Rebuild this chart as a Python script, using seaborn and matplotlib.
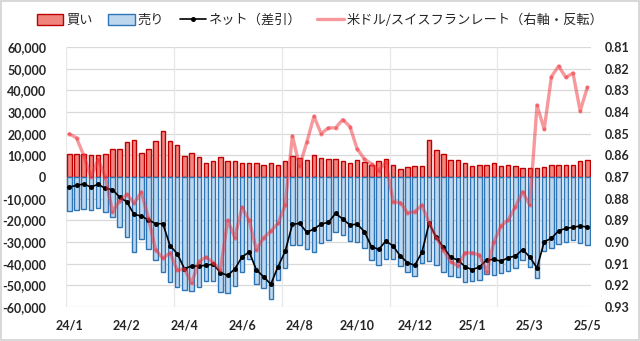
import matplotlib
matplotlib.use("Agg")
import matplotlib.pyplot as plt
import seaborn as sns
import numpy as np
import pandas as pd
from matplotlib.patches import Patch
from matplotlib.lines import Line2D

# ---- data (weekly, 2024/1 - 2025/5) ----
buy = [10460, 10770, 10600, 10150, 10150, 10460, 12770, 12770, 16000, 16900,
       10900, 12770, 16460, 21100, 16460, 14600, 9700, 10900, 9080, 6600,
       7540, 9080, 7540, 7540, 6300, 6300, 6300, 5380, 6300, 5380,
       7230, 9540, 8920, 7700, 10150, 8600, 8150, 8460, 7230, 6300,
       7700, 6770, 5700, 7230, 8150, 5380, 3850, 4460, 4920, 4920,
       16900, 12300, 10600, 7700, 7700, 6300, 4920, 5380, 5380, 6600,
       4920, 5380, 4920, 4000, 4000, 4000, 4460, 5380, 5380, 5380,
       5380, 7230, 7700]
sell = [-15700, -15400, -14600, -15400, -14150, -16150, -18600, -23200, -27850, -34800,
        -28460, -33400, -38300, -43700, -48600, -50900, -52150, -52600, -50600, -47850,
        -48150, -53200, -53700, -50150, -44000, -37850, -49500, -51400, -56300, -47500,
        -42150, -31500, -31500, -33400, -34800, -30300, -29100, -25500, -26900, -29700,
        -30000, -32900, -38300, -40800, -37850, -37850, -41100, -43850, -45700, -39850,
        -38900, -40800, -43700, -45700, -46150, -48600, -48150, -47500, -44800, -45400,
        -44460, -43500, -42000, -38300, -41500, -46600, -34300, -32600, -30900, -30000,
        -29100, -30600, -31400]
net = [-4600, -3850, -3230, -4600, -3380, -5230, -5850, -9230, -11540, -17230,
       -18000, -19850, -21540, -21540, -31700, -35400, -42300, -41100, -41100, -40770,
       -40150, -44150, -45400, -42460, -36900, -34600, -42900, -46000, -49500, -41400,
       -34300, -21850, -21400, -25500, -24000, -21700, -20900, -16800, -19400, -22150,
       -21700, -25200, -32150, -33400, -29500, -31850, -36460, -39500, -40800, -34800,
       -21400, -27850, -32460, -37100, -38300, -41400, -42800, -41500, -38300, -38000,
       -38900, -37200, -36460, -33500, -36900, -42000, -29850, -28300, -24800, -23700,
       -23200, -22600, -23100]
usdchf = [0.850, 0.852, 0.860, 0.870, 0.862, 0.870, 0.886, 0.881, 0.878, 0.882,
          0.877, 0.889, 0.9037, 0.9075, 0.905, 0.913, 0.9125, 0.919, 0.909, 0.907,
          0.9095, 0.913, 0.890, 0.898, 0.884, 0.890, 0.9037, 0.898, 0.895, 0.8914,
          0.883, 0.851, 0.865, 0.854, 0.842, 0.850, 0.8473, 0.8473, 0.8435, 0.8467,
          0.857, 0.8616, 0.864, 0.867, 0.863, 0.8814, 0.8818, 0.8865, 0.886, 0.883,
          0.891, 0.898, 0.9037, 0.909, 0.911, 0.905, 0.905, 0.906, 0.9137, 0.900,
          0.8926, 0.8898, 0.8837, 0.8768, 0.8829, 0.8368, 0.848, 0.8237, 0.8188, 0.824,
          0.822, 0.8395, 0.8286]
tick_labels = ["24/1", "24/2", "24/4", "24/6", "24/8", "24/10", "24/12", "25/1", "25/3", "25/5"]

n = len(buy)
week = list(range(n))
df = pd.DataFrame({"week": week, "buy": buy, "sell": sell, "net": net, "rate": usdchf})

sns.set_theme(style="white")
plt.rcParams['font.family'] = ['Noto Sans CJK JP', 'DejaVu Sans']

fig = plt.figure(figsize=(6.4, 3.41), dpi=100)
fig.patch.set_edgecolor('#D9D9D9')
fig.patch.set_linewidth(1.5)
ax = fig.add_axes([0.1027, 0.0997, 0.8207, 0.7623])

buy_fc, buy_ec = '#F0857E', '#C00000'
sell_fc, sell_ec = '#BDD7EE', '#2E75B6'

sns.barplot(data=df, x="week", y="buy", ax=ax, color=buy_fc, edgecolor=buy_ec,
            linewidth=1.0, width=0.62, saturation=1, zorder=2)
sns.barplot(data=df, x="week", y="sell", ax=ax, color=sell_fc, edgecolor=sell_ec,
            linewidth=1.0, width=0.62, saturation=1, zorder=2)
sns.lineplot(data=df, x="week", y="net", ax=ax, color='black', linewidth=1.2,
             marker='o', markersize=3.6, markeredgewidth=0, zorder=4)

ax.set_ylim(-60000, 60000)
ax.set_xlim(-0.5, n - 0.5)
ax.set_yticks(np.arange(-60000, 60001, 10000))
ax.set_yticklabels([f"{v:,}" for v in np.arange(-60000, 60001, 10000)])
ax.set_xticks(np.arange(0, n, 8))
ax.set_xticklabels(tick_labels)
ax.set_xlabel("")
ax.set_ylabel("")
ax.grid(False)
for v in np.arange(-60000, 60001, 10000):
    ax.axhline(v, color='#D9D9D9', linewidth=0.9, zorder=0)
for k in np.arange(-0.5, n, 15):
    ax.axvline(k, color='#E7E7E7', linewidth=0.9, zorder=0)
for s in ax.spines.values():
    s.set_visible(False)
ax.tick_params(axis='both', length=0)
ax.tick_params(axis='y', pad=14)
ax.tick_params(axis='x', pad=9)
for lab in ax.get_yticklabels() + ax.get_xticklabels():
    lab.set_fontfamily('Lato')
    lab.set_fontweight('bold')
    lab.set_fontsize(9)

ax2 = ax.twinx()
sns.lineplot(data=df, x="week", y="rate", ax=ax2, color='#F0323A', alpha=0.5,
             linewidth=2.4, marker='o', markersize=3, markeredgewidth=0, zorder=3)
ax2.set_ylim(0.93, 0.81)
ax2.set_yticks(np.arange(0.81, 0.9301, 0.01))
ax2.set_yticklabels([f"{v:.2f}" for v in np.arange(0.81, 0.9301, 0.01)])
ax2.set_ylabel("")
for s in ax2.spines.values():
    s.set_visible(False)
ax2.tick_params(axis='y', length=0, pad=10)
ax2.grid(False)
for lab in ax2.get_yticklabels():
    lab.set_fontfamily('Lato')
    lab.set_fontweight('bold')
    lab.set_fontsize(9)
ax2.set_xlim(-0.5, n - 0.5)

handles = [
    Patch(facecolor=buy_fc, edgecolor=buy_ec, linewidth=1.0),
    Patch(facecolor=sell_fc, edgecolor=sell_ec, linewidth=1.0),
    Line2D([0], [0], color='black', linewidth=1.2, marker='o', markersize=3.6, markeredgewidth=0),
    Line2D([0], [0], color='#F0323A', alpha=0.5, linewidth=2.4),
]
labels = ["買い", "売り", "ネット（差引）", "米ドル/スイスフランレート（右軸・反転）"]
fig.legend(handles, labels, loc='upper center', bbox_to_anchor=(0.5, 0.995), ncol=4,
           frameon=False, fontsize=9.5, handlelength=2.0, handleheight=0.9,
           handletextpad=0.2, columnspacing=1.2)

fig.savefig("out.png", dpi=100)
